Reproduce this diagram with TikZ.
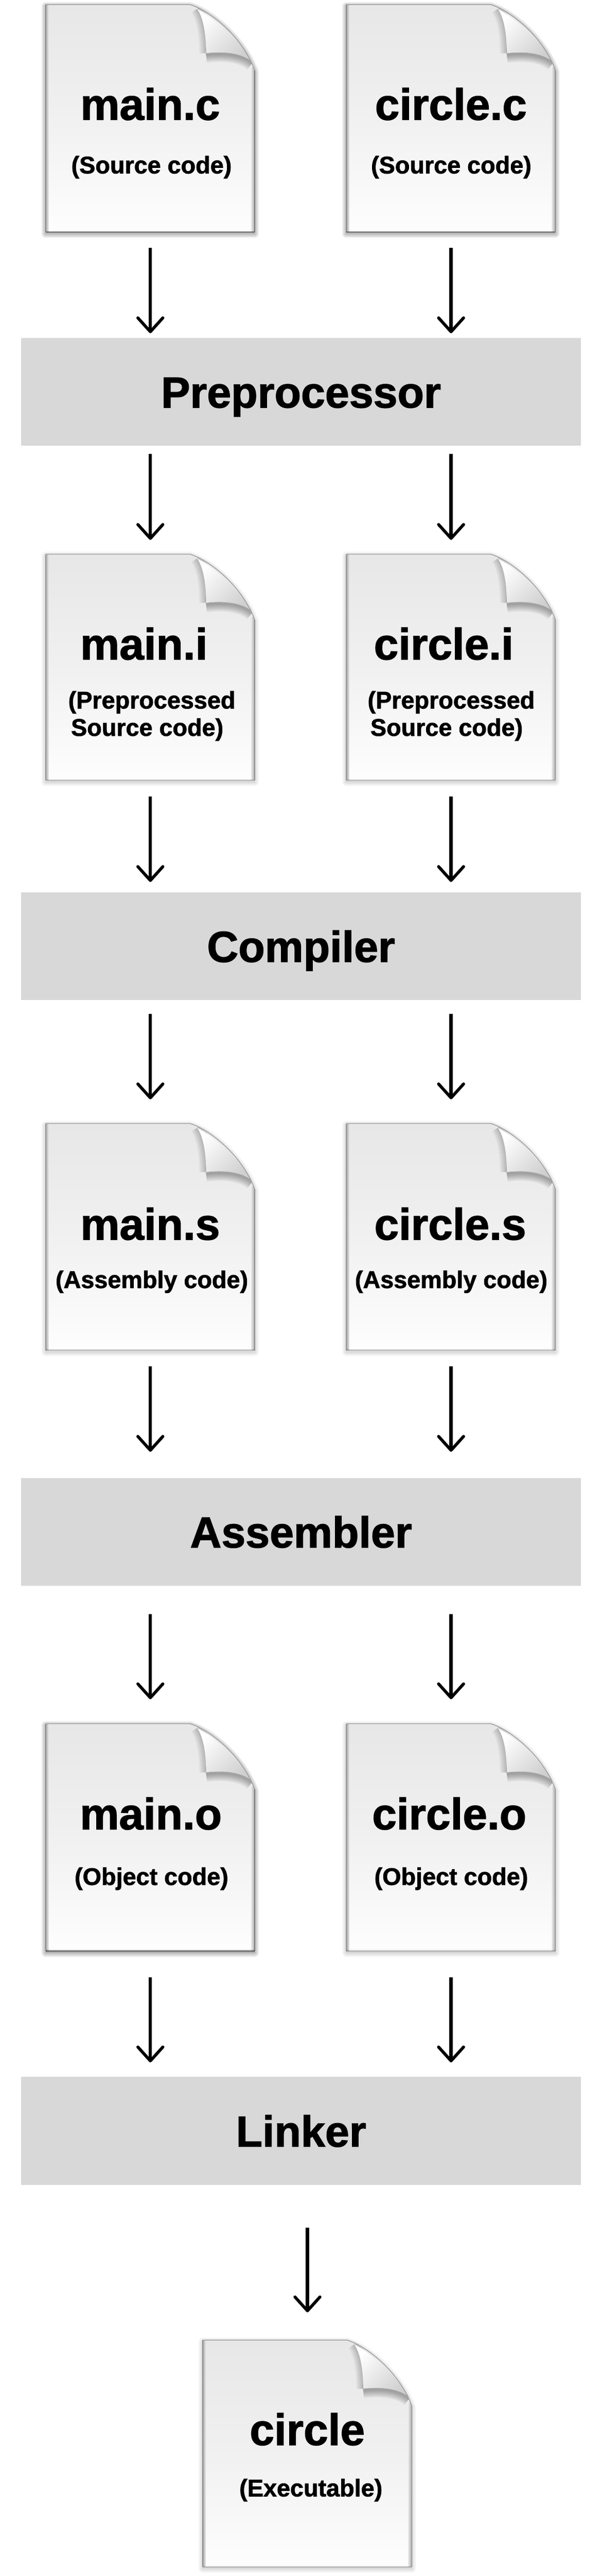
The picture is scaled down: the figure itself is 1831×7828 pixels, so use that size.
\documentclass[tikz,border=0pt]{standalone}
\usepackage{fontspec}
\setmainfont{Liberation Sans}[BoldFeatures={FakeBold=1.6}]
\usetikzlibrary{arrows.meta}
\definecolor{barfill}{HTML}{D8D8D8}
\definecolor{gtop}{HTML}{E2E2E2}
\definecolor{foldg}{HTML}{CFCFCF}
\definecolor{edgeg}{HTML}{A6A6A6}
\definecolor{edgel}{HTML}{E8E8E8}
\definecolor{lineg}{HTML}{A0A0A0}
\pgfdeclareverticalshading{docgrad}{100bp}{color(0bp)=(white);color(22bp)=(white);color(50bp)=(white!50!gtop);color(88bp)=(gtop);color(100bp)=(gtop)}
\tikzset{
  docbox/.style={inner sep=0pt,minimum width=318.5pt},
  barbox/.style={fill=barfill,inner sep=0pt,minimum width=851.5pt,minimum height=164pt,
    font=\bfseries\fontsize{66}{66}\selectfont,text height=47.5pt,text depth=0pt},
  titletext/.style={anchor=base,inner sep=0pt,font=\bfseries\fontsize{67}{67}\selectfont},
  subtext/.style={anchor=base,inner sep=0pt,font=\bfseries\fontsize{36.6}{36.6}\selectfont},
  conn/.style={line width=5pt,-{Straight Barb[length=21pt,width=38pt,line width=4.6pt,round]}},
}
% name, left, top, height, shadow strength
\newcommand{\filedoc}[5]{%
  \node[docbox,minimum height=#4*0.5pt] (#1) at (#2+318.5,#3+#4/2) {};
  \pgfmathsetmacro{\botop}{min(1,#5*14)}%
  \pgfmathsetmacro{\sideop}{min(1,#5*8)}%
  \begin{scope}[shift={(#2,#3)}]
    \def\docout{(0,0) -- (439,0) .. controls (500,18) and (600,100) .. (636,200) -- (636,#4) -- (0,#4) -- cycle}%
    \def\curvecb{(628,173) .. controls (600,150) and (550,140) .. (488,148)}%
    \def\curveca{(488,148) .. controls (488,90) and (480,40) .. (461,13)}%
    \foreach \w in {3,6,...,27}{
      \draw[black,line width=\w*0.5pt,opacity=#5,line join=round,shift={(0,5)}] \docout;
    }
    \fill[white] \docout;
    \begin{scope}
      \clip \docout;
      \shade[shading=docgrad,shading angle=0] (0,0) rectangle (636,#4);
      \shade[left color=edgeg,right color=edgel,opacity=.95] (0,0) rectangle (9,#4);
      \shade[left color=edgel,right color=edgeg,opacity=.95] (625,190) rectangle (636,#4);
      \foreach \w in {6,12,...,48}{
        \draw[black,line width=\w*0.5pt,opacity=.045,shift={(0,5)}] \curvecb;
      }
      \foreach \w in {6,12,...,42}{
        \draw[black,line width=\w*0.5pt,opacity=.03] \curveca;
      }
    \end{scope}
    \shade[left color=white,right color=foldg,shading angle=45]
      (461,13) .. controls (520,45) and (590,110) .. (628,173)
      .. controls (600,150) and (550,140) .. (488,148)
      .. controls (488,90) and (480,40) .. (461,13) -- cycle;
    \draw[lineg,line width=1.2pt] (0,0) -- (439,0) .. controls (500,18) and (600,100) .. (636,200) -- (636,#4);
    \draw[lineg,line width=1.2pt] (0,0) -- (0,#4);
    \draw[black,opacity=\botop,line width=2.5pt] (0,#4) -- (636,#4);
    \draw[black,opacity=\sideop,line width=1pt] (0,0) -- (0,#4) (636,200) -- (636,#4);
  \end{scope}
}
\newcommand{\arrowgap}[4]{\draw[conn,shorten <=#3*0.5pt,shorten >=#4*0.5pt] #1 -- #2;}
\begin{document}
\begin{tikzpicture}[x=0.5pt,y=-0.5pt]
\useasboundingbox (0,0) rectangle (1831,7828);
\fill[white] (0,0) rectangle (1831,7828);

\filedoc{mainc}{139}{14}{691}{0.03}
\filedoc{circlec}{1054}{14}{691}{0.03}
\filedoc{maini}{139}{1684}{687}{0.014}
\filedoc{circlei}{1054}{1684}{687}{0.014}
\filedoc{mains}{139}{3414}{689}{0.014}
\filedoc{circles}{1054}{3414}{689}{0.014}
\filedoc{maino}{139}{5238}{691}{0.03}
\filedoc{circleo}{1054}{5238}{691}{0.014}
\filedoc{circleexe}{617}{7111}{689}{0.014}

\node[titletext] (tmc) at (457,364) {main.c};
\node[subtext] (smc) at (461,527) {(Source code)};
\node[titletext] (tcc) at (1372,364) {circle.c};
\node[subtext] (scc) at (1373,527) {(Source code)};

\node[titletext] (tmi) at (438,2004) {main.i};
\node[subtext] (smi) at (462,2153) {(Preprocessed};
\node[subtext] (smib) at (448,2236) {Source code)};
\node[titletext] (tci) at (1350,2004) {circle.i};
\node[subtext] (sci) at (1373,2153) {(Preprocessed};
\node[subtext] (scib) at (1359,2236) {Source code)};

\node[titletext] (tms) at (457,3767) {main.s};
\node[subtext] (sms) at (462,3914) {(Assembly code)};
\node[titletext] (tcs) at (1370,3767) {circle.s};
\node[subtext] (scs) at (1373,3914) {(Assembly code)};

\node[titletext] (tmo) at (459,5559) {main.o};
\node[subtext] (smo) at (461,5728) {(Object code)};
\node[titletext] (tco) at (1367,5559) {circle.o};
\node[subtext] (sco) at (1373,5728) {(Object code)};

\node[titletext] (tex) at (935,7430) {circle};
\node[subtext] (sex) at (946,7586) {(Executable)};

\node[barbox] (pre) at (916,1191) {Preprocessor};
\node[barbox] (com) at (916,2875.5) {Compiler};
\node[barbox] (ass) at (916,4655) {Assembler};
\node[barbox] (lin) at (916,6475.5) {Linker};

\arrowgap{(mainc.south)}{(mainc.south |- pre.north)}{47}{14}
\arrowgap{(circlec.south)}{(circlec.south |- pre.north)}{47}{14}
\arrowgap{(maini.north |- pre.south)}{(maini.north)}{24}{43}
\arrowgap{(circlei.north |- pre.south)}{(circlei.north)}{24}{43}
\arrowgap{(maini.south)}{(maini.south |- com.north)}{49}{31}
\arrowgap{(circlei.south)}{(circlei.south |- com.north)}{49}{31}
\arrowgap{(mains.north |- com.south)}{(mains.north)}{41}{73}
\arrowgap{(circles.north |- com.south)}{(circles.north)}{41}{73}
\arrowgap{(mains.south)}{(mains.south |- ass.north)}{49}{79}
\arrowgap{(circles.south)}{(circles.south |- ass.north)}{49}{79}
\arrowgap{(maino.north |- ass.south)}{(maino.north)}{85}{74}
\arrowgap{(circleo.north |- ass.south)}{(circleo.north)}{85}{74}
\arrowgap{(maino.south)}{(maino.south |- lin.north)}{79}{44}
\arrowgap{(circleo.south)}{(circleo.south |- lin.north)}{79}{44}
\arrowgap{(circleexe.north |- lin.south)}{(circleexe.north)}{129}{84}
\end{tikzpicture}
\end{document}
